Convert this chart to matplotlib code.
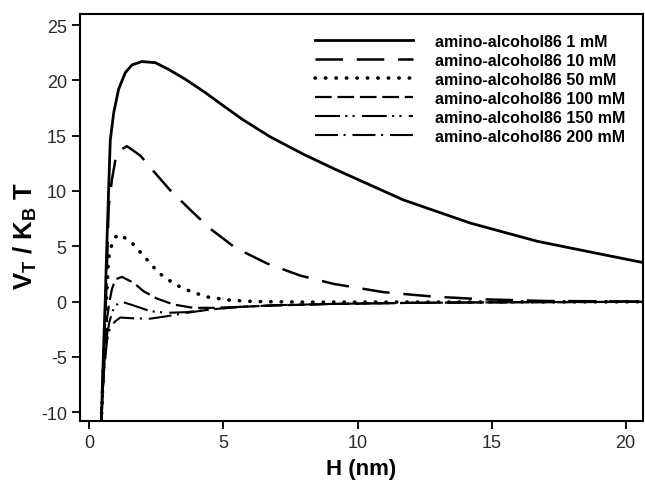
import matplotlib.pyplot as plt

plt.rcParams['font.family'] = ['Liberation Sans', 'DejaVu Sans']
plt.rcParams['mathtext.fontset'] = 'custom'
plt.rcParams['mathtext.rm'] = 'Liberation Sans'
plt.rcParams['mathtext.bf'] = 'Liberation Sans:bold'
plt.rcParams['axes.unicode_minus'] = False

# values: H (nm) and V_T / K_B T
h_1 = [0.43, 0.47, 0.52, 0.59, 0.65, 0.71, 0.78, 0.91, 1.09, 1.34, 1.59, 1.96, 2.46,
       2.95, 3.58, 4.32, 5.0, 5.69, 6.74, 8.0, 9.22, 11.7, 14.2, 16.7, 19.15, 20.7]
v_1 = [-12, -9, -5, 0, 5, 9.5, 14.6, 17.1, 19.2, 20.7, 21.4, 21.7, 21.6,
       21.0, 20.1, 18.9, 17.7, 16.5, 14.9, 13.3, 11.9, 9.2, 7.1, 5.45, 4.25, 3.5]

h_10 = [0.43, 0.48, 0.55, 0.63, 0.72, 0.84, 0.97, 1.09, 1.40, 1.9, 2.39, 3.0, 3.76, 4.5,
        5.45, 6.62, 7.86, 9.1, 10.96, 12.8, 14.7, 17.0, 20.7]
v_10 = [-12, -8, -4, 1, 8.6, 11.0, 12.8, 13.6, 14.05, 13.2, 11.8, 10.1, 8.3, 6.6,
        4.85, 3.45, 2.35, 1.6, 0.85, 0.45, 0.2, 0.05, 0.0]

h_50 = [0.43, 0.49, 0.56, 0.64, 0.72, 0.85, 1.0, 1.15, 1.59, 2.09, 2.58, 3.2, 3.76,
        4.38, 5.25, 6.12, 8.0, 12.0, 20.7]
v_50 = [-12, -8, -4, 0.5, 3.95, 5.3, 5.9, 6.06, 5.3, 3.95, 2.6, 1.54, 0.93,
        0.42, 0.12, 0.0, -0.05, -0.05, -0.02]

h_100 = [0.43, 0.5, 0.58, 0.66, 0.75, 0.84, 0.97, 1.21, 1.65, 2.02, 2.52, 3.14, 3.88,
         4.63, 5.62, 7.0, 9.0, 12.0, 16.0, 20.7]
v_100 = [-12, -8, -4, -1.5, 0.0, 1.1, 2.0, 2.23, 1.7, 0.93, 0.27, -0.27, -0.57,
         -0.57, -0.48, -0.35, -0.22, -0.12, -0.06, -0.03]

h_150 = [0.43, 0.5, 0.58, 0.66, 0.75, 0.91, 1.15, 1.65, 2.27, 2.89, 3.64, 4.5, 5.62,
         7.0, 9.0, 12.0, 16.0, 20.7]
v_150 = [-12, -8, -5, -3, -1.8, -0.57, 0.03, -0.36, -0.87, -1.02, -0.96, -0.72, -0.48,
         -0.33, -0.22, -0.12, -0.06, -0.03]

h_200 = [0.43, 0.5, 0.58, 0.66, 0.75, 0.85, 0.97, 1.15, 1.65, 2.27, 2.89, 3.64, 4.5,
         5.62, 7.0, 9.0, 12.0, 16.0, 20.7]
v_200 = [-12, -8, -5.5, -3.5, -2.6, -2.1, -1.78, -1.45, -1.52, -1.55, -1.33, -1.02, -0.72,
         -0.48, -0.33, -0.22, -0.12, -0.06, -0.03]

labels = ['amino-alcohol86 1 mM', 'amino-alcohol86 10 mM', 'amino-alcohol86 50 mM',
          'amino-alcohol86 100 mM', 'amino-alcohol86 150 mM', 'amino-alcohol86 200 mM']

fig = plt.figure(figsize=(6.45, 4.85), dpi=100)
ax = fig.add_axes([0.124, 0.130, 0.873, 0.839])

ax.plot(h_1, v_1, color='black', lw=2.0, linestyle='-', label=labels[0])
ax.plot(h_10, v_10, color='black', lw=1.8, linestyle=(0, (11, 5.5)), label=labels[1])
ax.plot(h_50, v_50, color='black', lw=2.6, linestyle=(0, (0.1, 2.8)),
        dash_capstyle='round', label=labels[2])
ax.plot(h_100, v_100, color='black', lw=1.6, linestyle=(0, (7.5, 2.6)), label=labels[3])
ax.plot(h_150, v_150, color='black', lw=1.5, linestyle=(0, (12, 2.5, 1, 2.5, 1, 3.5)),
        label=labels[4])
ax.plot(h_200, v_200, color='black', lw=1.5, linestyle=(0, (11, 2.7, 1, 3.3)),
        label=labels[5])

ax.set_xlim(-0.35, 20.65)
ax.set_ylim(-10.8, 26)
ax.set_xticks([0, 5, 10, 15, 20])
ax.set_yticks([-10, -5, 0, 5, 10, 15, 20, 25])

for s in ax.spines.values():
    s.set_linewidth(1.5)
ax.tick_params(direction='out', length=5.5, width=1.3, labelsize=13,
               labelcolor='#2a2a2a', pad=4)

ax.set_xlabel('H (nm)', fontsize=16, fontweight='bold', labelpad=5)
ax.set_ylabel(r'$\mathbf{V_T}$ / $\mathbf{K_B}$ T', fontsize=18.5, fontweight='bold')
ax.yaxis.set_label_coords(-0.073, 0.456)

leg = ax.legend(loc='upper right', bbox_to_anchor=(1.0, 0.995), frameon=False,
                fontsize=11.5, handlelength=6.1, handletextpad=1.4,
                labelspacing=0.25, borderaxespad=0.7)
for t in leg.get_texts():
    t.set_fontweight('bold')

fig.savefig('out.png', dpi=100)
